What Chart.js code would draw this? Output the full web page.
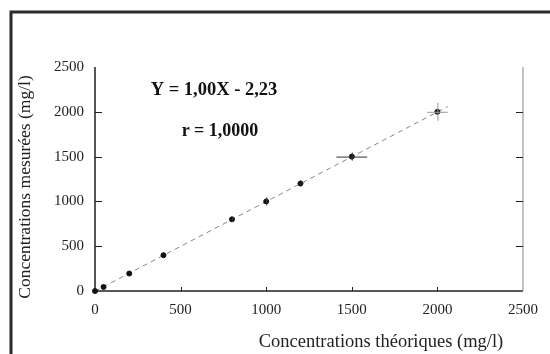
<!DOCTYPE html>
<html>
<head>
<meta charset="utf-8">
<script src="https://cdn.jsdelivr.net/npm/chart.js@4"></script>
<style>
  html, body { margin: 0; background: #fff; }
  #wrap { width: 550px; height: 354px; }
</style>
</head>
<body>
<div id="wrap"><canvas id="chart" width="550" height="354"></canvas></div>
<script>
// courbe d'étalonnage - concentrations mesurées vs théoriques
const concTheo = [0, 50, 200, 400, 800, 1000, 1200, 1500, 2000];
const concMes  = [0, 45, 195, 400, 800, 1000, 1200, 1500, 2000];
const errX     = [0, 0, 0, 0, 0, 0, 0, 90, 60];
const errY     = [0, 0, 0, 0, 25, 45, 35, 45, 100];
const fitX = [0, 2060];
const fitY = [-2, 2058];
const xTicks = [0, 500, 1000, 1500, 2000, 2500];
const yTicks = [0, 500, 1000, 1500, 2000, 2500];
const equation = 'Y = 1,00X - 2,23';
const coefR = 'r = 1,0000';
const xTitle = 'Concentrations théoriques (mg/l)';
const yTitle = 'Concentrations mesurées (mg/l)';

const serif = '"Liberation Serif", "DejaVu Serif", serif';

// frame, axes, inward ticks, error bars and texts
const deco = {
  id: 'deco',
  beforeDraw(chart) {
    const c = chart.ctx;
    c.save();
    c.strokeStyle = '#2a2a2a';
    c.lineWidth = 3;
    c.beginPath();
    c.moveTo(11, 354);
    c.lineTo(11, 12);
    c.lineTo(550, 12);
    c.stroke();
    c.restore();
  },
  beforeDatasetsDraw(chart) {
    const c = chart.ctx, xs = chart.scales.x, ys = chart.scales.y;
    const a = chart.chartArea;
    c.save();
    // axes
    c.strokeStyle = '#222';
    c.lineWidth = 1.5;
    c.beginPath();
    c.moveTo(a.left, a.top);
    c.lineTo(a.left, a.bottom);
    c.lineTo(a.right, a.bottom);
    c.stroke();
    c.strokeStyle = '#9a9a9a';
    c.lineWidth = 1.2;
    c.beginPath();
    c.moveTo(a.right, a.top);
    c.lineTo(a.right, a.bottom);
    c.stroke();
    // inward ticks
    c.lineWidth = 1;
    c.strokeStyle = '#222';
    yTicks.slice(1, -1).forEach(v => {
      const py = Math.round(ys.getPixelForValue(v)) + 0.5;
      c.beginPath();
      c.moveTo(a.left, py); c.lineTo(a.left + 7, py);
      c.moveTo(a.right, py); c.lineTo(a.right - 7, py);
      c.stroke();
    });
    xTicks.slice(1, -1).forEach(v => {
      const px = Math.round(xs.getPixelForValue(v)) + 0.5;
      c.beginPath();
      c.moveTo(px, a.bottom); c.lineTo(px, a.bottom - 4);
      c.stroke();
    });
    c.restore();
  },
  afterDatasetsDraw(chart) {
    const c = chart.ctx, xs = chart.scales.x, ys = chart.scales.y;
    c.save();
    // error bars
    c.lineWidth = 1;
    concTheo.forEach((x, i) => {
      const px = xs.getPixelForValue(x), py = ys.getPixelForValue(concMes[i]);
      c.strokeStyle = i === 8 ? '#999' : '#333';
      if (errX[i]) {
        c.beginPath();
        c.moveTo(xs.getPixelForValue(x - errX[i]), py + 0.5);
        c.lineTo(xs.getPixelForValue(x + errX[i]), py + 0.5);
        c.stroke();
      }
      if (errY[i]) {
        c.beginPath();
        c.moveTo(px + 0.5, ys.getPixelForValue(concMes[i] - errY[i]));
        c.lineTo(px + 0.5, ys.getPixelForValue(concMes[i] + errY[i]));
        c.stroke();
      }
    });
    // equation
    c.fillStyle = '#111';
    c.textAlign = 'center';
    c.textBaseline = 'middle';
    c.font = 'bold 18.5px ' + serif;
    c.fillText(equation, 214, 90);
    c.font = 'bold 18px ' + serif;
    c.fillText(coefR, 220, 131);
    // axis titles
    c.fillStyle = '#222';
    c.font = '18.5px ' + serif;
    c.fillText(xTitle, 381, 342);
    c.font = '17.5px ' + serif;
    c.translate(25, 187);
    c.rotate(-Math.PI / 2);
    c.fillText(yTitle, 0, 0);
    c.restore();
  }
};

const ctx = document.getElementById('chart');
new Chart(ctx, {
  type: 'scatter',
  data: {
    datasets: [
      {
        label: 'mesures',
        data: concTheo.map((x, i) => ({ x: x, y: concMes[i] })),
        pointRadius: 2.5,
        pointBackgroundColor: '#111',
        pointBorderColor: '#111',
        showLine: false,
        clip: false
      },
      {
        label: 'droite',
        data: fitX.map((x, i) => ({ x: x, y: fitY[i] })),
        showLine: true,
        borderColor: '#888',
        borderWidth: 1,
        borderDash: [5, 4],
        pointRadius: 0
      }
    ]
  },
  options: {
    responsive: false,
    animation: false,
    layout: { padding: { top: 67, right: 27, left: 0, bottom: 0 } },
    plugins: { legend: { display: false }, tooltip: { enabled: false } },
    scales: {
      x: {
        type: 'linear', min: 0, max: 2500,
        afterBuildTicks: s => { s.ticks = xTicks.map(v => ({ value: v })); },
        afterFit: s => { s.height = 63; },
        grid: { display: false, drawTicks: false },
        border: { display: false },
        ticks: { font: { family: serif, size: 15 }, color: '#222', padding: 10, maxRotation: 0,
                 callback: v => String(v) }
      },
      y: {
        type: 'linear', min: 0, max: 2500,
        afterBuildTicks: s => { s.ticks = yTicks.map(v => ({ value: v })); },
        afterFit: s => { s.width = 95; },
        grid: { display: false, drawTicks: false },
        border: { display: false },
        ticks: { font: { family: serif, size: 15 }, color: '#222', padding: 11,
                 callback: v => String(v) }
      }
    }
  },
  plugins: [deco]
});
</script>
</body>
</html>
